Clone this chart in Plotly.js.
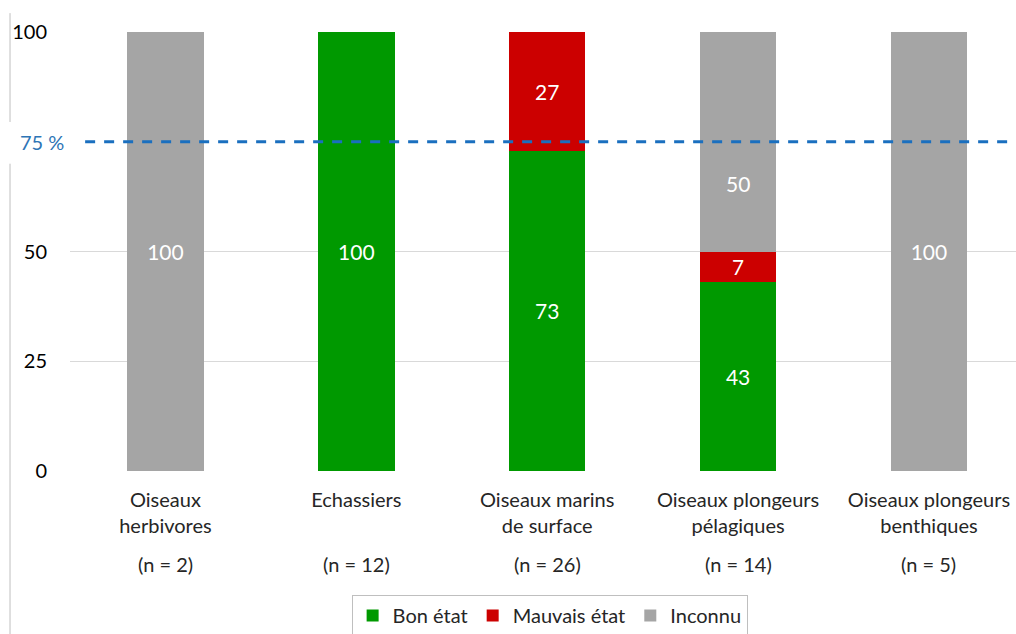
<!DOCTYPE html>
<html>
<head>
<meta charset="utf-8">
<script src="https://cdn.plot.ly/plotly-3.0.1.min.js"></script>
<style>html,body{margin:0;padding:0;background:#fff;}#chart{width:1016px;height:634px;}</style>
</head>
<body>
<div id="chart"></div>
<script>
var categories = ["Oiseaux<br>herbivores", "Echassiers", "Oiseaux marins<br>de surface", "Oiseaux plongeurs<br>pélagiques", "Oiseaux plongeurs<br>benthiques"];
var nLabels = ["(n = 2)", "(n = 12)", "(n = 26)", "(n = 14)", "(n = 5)"];
var bonEtat = [0, 100, 73, 43, 0];
var mauvaisEtat = [0, 0, 27, 7, 0];
var inconnu = [100, 0, 0, 50, 100];
var threshold = 75;
var yTicks = [0, 25, 50, 100];

var FONT = "Lato, 'Open Sans', 'DejaVu Sans', sans-serif";
var idx = categories.map(function(_, i){ return i; });

function labels(arr){ return arr.map(function(v){ return v > 0 ? String(v) : ""; }); }

// the grey 50 label is moved down off the dashed line in the reference
var inconnuText = labels(inconnu);
inconnuText[3] = "";

var traces = [
  {type:"bar", name:"Bon état", x:idx, y:bonEtat, marker:{color:"#009900"}, text:labels(bonEtat)},
  {type:"bar", name:"Mauvais état", x:idx, y:mauvaisEtat, marker:{color:"#CC0000"}, text:labels(mauvaisEtat)},
  {type:"bar", name:"Inconnu", x:idx, y:inconnu, marker:{color:"#A5A5A5"}, text:inconnuText}
];
traces.forEach(function(t){
  t.width = 0.4;
  t.textposition = "inside";
  t.insidetextanchor = "middle";
  t.textangle = 0;
  t.insidetextfont = {family:FONT, size:21, color:"#ffffff"};
  t.hoverinfo = "none";
});

var annotations = nLabels.map(function(s, i){
  return {x:i, y:0, xref:"x", yref:"y", text:s, showarrow:false, yshift:-93, yanchor:"middle",
          font:{family:FONT, size:20, color:"#262626"}};
});
annotations.push({x:3, y:bonEtat[3]+mauvaisEtat[3]+inconnu[3]/2, xref:"x", yref:"y", text:String(inconnu[3]),
  showarrow:false, yshift:-42, font:{family:FONT, size:21, color:"#ffffff"}});
annotations.push({x:0, y:threshold, xref:"paper", yref:"y", text:threshold + " %", showarrow:false,
  xanchor:"right", xshift:-4, yanchor:"middle", font:{family:FONT, size:20, color:"#2E75B6"}});

var shapes = [
  {type:"line", xref:"paper", yref:"y", x0:0.016, x1:1, y0:threshold, y1:threshold,
   line:{color:"#1A6FBF", width:3, dash:"10px,9px"}, layer:"above"},
  {type:"line", xref:"paper", yref:"paper", x0:-0.0634, x1:-0.0634, y0:1.043, y1:0.795,
   line:{color:"#BFBFBF", width:1}},
  {type:"line", xref:"paper", yref:"paper", x0:-0.0634, x1:-0.0634, y0:0.70, y1:-0.372,
   line:{color:"#BFBFBF", width:1}}
];

var layout = {
  width:1016, height:634,
  margin:{l:70, r:0, t:32, b:163},
  paper_bgcolor:"#ffffff", plot_bgcolor:"#ffffff",
  barmode:"stack",
  showlegend:true,
  font:{family:FONT, size:20, color:"#000000"},
  xaxis:{range:[-0.5, 4.456], tickmode:"array", tickvals:idx, ticktext:categories, automargin:false,
         showgrid:false, zeroline:false, showline:false, ticks:"outside", ticklen:11,
         tickcolor:"rgba(0,0,0,0)", fixedrange:true,
         tickfont:{family:FONT, size:20, color:"#262626"}},
  yaxis:{range:[0, 100], tickmode:"array", tickvals:yTicks, ticktext:yTicks.map(String), automargin:false,
         showgrid:true, gridcolor:"#D9D9D9", gridwidth:1, zeroline:false, showline:false,
         ticks:"outside", ticklen:18, tickcolor:"rgba(0,0,0,0)", fixedrange:true,
         tickfont:{family:FONT, size:20, color:"#000000"}},
  legend:{orientation:"h", traceorder:"normal", x:0.507, xanchor:"center",
          yref:"container", y:0.0615, yanchor:"top",
          bordercolor:"#BFBFBF", borderwidth:1, font:{family:FONT, size:20, color:"#262626"},
          itemclick:false, itemdoubleclick:false},
  annotations:annotations,
  shapes:shapes
};

Plotly.newPlot("chart", traces, layout, {displayModeBar:false, staticPlot:true});
</script>
</body>
</html>
